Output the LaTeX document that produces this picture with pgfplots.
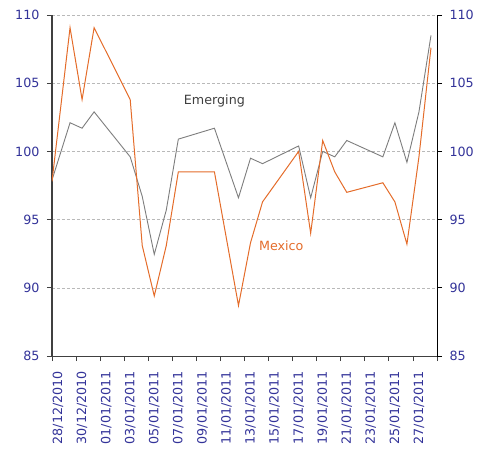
\documentclass[border=0pt]{standalone}
\usepackage{fontspec}
\setmainfont{DejaVu Sans}
\usepackage{pgfplots}
\pgfplotsset{compat=1.18}
\definecolor{mxorange}{RGB}{228,108,42}
\definecolor{emgray}{RGB}{125,125,125}
\definecolor{tickblue}{RGB}{51,51,153}
\definecolor{txtgray}{RGB}{64,64,64}
\newcommand{\lbl}{\fontsize{12.7bp}{15bp}\selectfont}

\begin{document}
\begin{tikzpicture}
\pgfplotsset{
  base/.style={
    scale only axis, width=385bp, height=341bp,
    xmin=-0.5, xmax=31.5, ymin=85, ymax=110,
    ytick={85,90,...,110},
    tick label style={font=\lbl, text=tickblue},
    /pgf/number format/assume math mode=true,
    major tick length=5bp, minor tick length=5bp,
    tick align=outside,
  }
}
% days counted from 28/12/2010 = 0
\begin{axis}[base, name=ax,
  axis x line*=bottom, axis y line*=left,
  x axis line style={draw=txtgray, line width=0.8bp, -},
  y axis line style={draw=txtgray, line width=1.5bp, -},
  tick style={draw=txtgray, line width=0.8bp},
  ymajorgrids, grid style={draw=gray!55, dash pattern=on 3bp off 2bp, line width=0.6bp},
  xtick={-0.5,1.5,...,31.5}, xticklabels={},
  extra x ticks={0,2,...,30},
  extra x tick labels={28/12/2010,30/12/2010,01/01/2011,03/01/2011,05/01/2011,07/01/2011,09/01/2011,11/01/2011,13/01/2011,15/01/2011,17/01/2011,19/01/2011,21/01/2011,23/01/2011,25/01/2011,27/01/2011},
  extra x tick style={major tick length=0pt, grid=none,
    xticklabel style={rotate=90, anchor=east, inner sep=0pt, xshift=-15bp}},
  yticklabel style={xshift=-4bp},
]
\addplot[color=emgray, line width=0.9bp] coordinates {
  (-0.5,97.9) (1,102.1) (2,101.7) (3,102.9) (6,99.6) (7,96.7) (8,92.45)
  (9,95.7) (10,100.9) (13,101.7) (15,96.6) (16,99.5) (17,99.1) (20,100.4)
  (21,96.6) (22,100.0) (23,99.6) (24,100.8) (27,99.6) (28,102.1) (29,99.2)
  (30,102.9) (31,108.5)
};
\addplot[color=mxorange, line width=1bp] coordinates {
  (-0.5,97.8) (1,109.07) (2,103.8) (3,109.07) (6,103.8) (7,93.1) (8,89.4)
  (9,93.1) (10,98.5) (13,98.5) (15,88.7) (16,93.3) (17,96.3) (20,100.0)
  (21,94.0) (22,100.8) (23,98.5) (24,97.0) (27,97.7) (28,96.3) (29,93.2)
  (30,99.6) (31,107.6)
};
\node[text=txtgray, font=\lbl] at (axis cs:13,103.7) {Emerging};
\node[text=mxorange, font=\lbl] at (axis cs:18.56,93.1) {Mexico};
\end{axis}
\begin{axis}[base,
  axis y line*=right, axis x line=none,
  y axis line style={draw=black, line width=0.9bp, -},
  tick style={draw=black, line width=0.9bp},
  yticklabel style={xshift=4bp},
]
\end{axis}
\pgfresetboundingbox
\path[use as bounding box] ([shift={(-52bp,-95bp)}]ax.south west) rectangle ([shift={(41bp,15bp)}]ax.north east);
\end{tikzpicture}
\end{document}
